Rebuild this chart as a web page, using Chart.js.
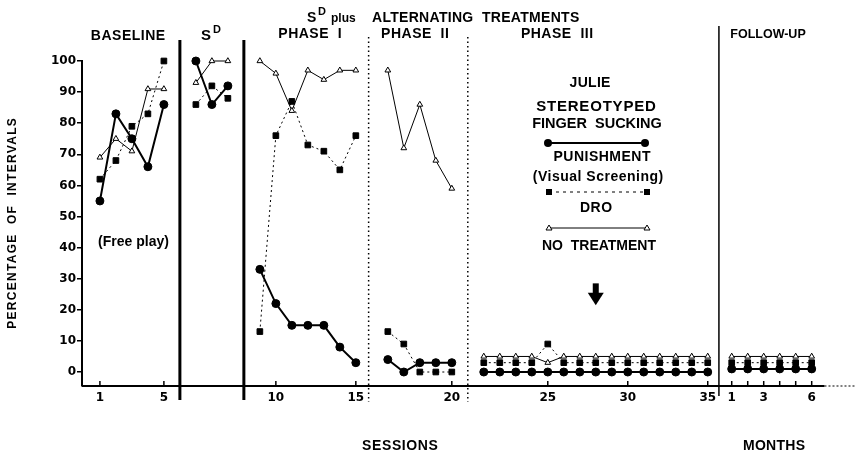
<!DOCTYPE html>
<html>
<head>
<meta charset="utf-8">
<script src="https://cdn.jsdelivr.net/npm/chart.js@4.4.0/dist/chart.umd.min.js"></script>
<style>
  body { margin: 0; background: #fff; }
  #wrap { width: 861px; height: 453px; }
</style>
</head>
<body>
<div id="wrap"><canvas id="chart"></canvas></div>
<script>
// sessions in each condition
const baselineSessions = [1, 2, 3, 4, 5];
const sdSessions = [6, 7, 8];
const phase1Sessions = [9, 10, 11, 12, 13, 14, 15];
const phase2Sessions = [16, 17, 18, 19, 20];
const phase3Sessions = [21, 22, 23, 24, 25, 26, 27, 28, 29, 30, 31, 32, 33, 34, 35];
const followUpMonths = [1, 2, 3, 4, 5, 6];

// punishment (visual screening)
const punBaseline = [55, 83, 75, 66, 86];
const punSD = [100, 86, 92];
const punPhase1 = [33, 22, 15, 15, 15, 8, 3];
const punPhase2 = [4, 0, 3, 3, 3];
const punPhase3 = [0, 0, 0, 0, 0, 0, 0, 0, 0, 0, 0, 0, 0, 0, 0];
const punFollowUp = [1, 1, 1, 1, 1, 1];

// DRO
const droBaseline = [62, 68, 79, 83, 100];
const droSD = [86, 92, 88];
const droPhase1 = [13, 76, 87, 73, 71, 65, 76];
const droPhase2 = [13, 9, 0, 0, 0];
const droPhase3 = [3, 3, 3, 3, 9, 3, 3, 3, 3, 3, 3, 3, 3, 3, 3];
const droFollowUp = [3, 3, 3, 3, 3, 3];

// no treatment
const ntBaseline = [69, 75, 71, 91, 91];
const ntSD = [93, 100, 100];
const ntPhase1 = [100, 96, 84, 97, 94, 97, 97];
const ntPhase2 = [97, 72, 86, 68, 59];
const ntPhase3 = [5, 5, 5, 5, 3, 5, 5, 5, 5, 5, 5, 5, 5, 5, 5];
const ntFollowUp = [5, 5, 5, 5, 5, 5];

// axis labels
const yTicks = [0, 10, 20, 30, 40, 50, 60, 70, 80, 90, 100];
const sessionTicks = [1, 5, 10, 15, 20, 25, 30, 35];
const monthTicks = [1, 2, 3, 4, 5, 6];
const monthLabels = ["1", "", "3", "", "", "6"];

// each condition is shifted right by one empty slot on the axis
const gap = { baseline: 0, sd: 1, p1: 2, p2: 3, p3: 4, months: 39.5 };

function sessionPos(s) {
  if (s <= 5) return s + gap.baseline;
  if (s <= 8) return s + gap.sd;
  if (s <= 15) return s + gap.p1;
  if (s <= 20) return s + gap.p2;
  return s + gap.p3;
}

function series(parts) {
  let pts = [];
  parts.forEach((p, i) => {
    let xs = p[0].map(v => p[2] ? v + gap.months : sessionPos(v));
    if (i > 0) pts.push({ x: xs[0] - 0.5, y: null });
    xs.forEach((x, j) => pts.push({ x: x, y: p[1][j] }));
  });
  return pts;
}

const punData = series([
  [baselineSessions, punBaseline], [sdSessions, punSD], [phase1Sessions, punPhase1],
  [phase2Sessions, punPhase2], [phase3Sessions, punPhase3], [followUpMonths, punFollowUp, true]
]);
const droData = series([
  [baselineSessions, droBaseline], [sdSessions, droSD], [phase1Sessions, droPhase1],
  [phase2Sessions, droPhase2], [phase3Sessions, droPhase3], [followUpMonths, droFollowUp, true]
]);
const ntData = series([
  [baselineSessions, ntBaseline], [sdSessions, ntSD], [phase1Sessions, ntPhase1],
  [phase2Sessions, ntPhase2], [phase3Sessions, ntPhase3], [followUpMonths, ntFollowUp, true]
]);

let tickLabel = {};
sessionTicks.forEach(s => tickLabel[sessionPos(s)] = String(s));
monthTicks.forEach((m, i) => tickLabel[m + gap.months] = monthLabels[i]);

function text(ctx, str, x, y, font, spacing, align) {
  ctx.font = font;
  ctx.letterSpacing = (spacing || 0) + "px";
  ctx.textAlign = align || "center";
  ctx.fillText(str, x + (align ? 0 : (spacing || 0) / 2), y);
}

function circle(ctx, x, y) {
  ctx.beginPath(); ctx.arc(x, y, 4, 0, Math.PI * 2); ctx.fill();
}
function square(ctx, x, y) {
  ctx.fillRect(x - 3, y - 3, 6, 6);
}
function triangle(ctx, x, y) {
  ctx.beginPath();
  ctx.moveTo(x, y - 3); ctx.lineTo(x + 3, y + 2); ctx.lineTo(x - 3, y + 2); ctx.closePath();
  ctx.fillStyle = "#fff"; ctx.fill(); ctx.lineWidth = 1; ctx.stroke(); ctx.fillStyle = "#000";
}

const overlay = {
  id: "overlay",
  afterDraw(chart) {
    const { ctx, chartArea: a, scales: { x, y } } = chart;
    ctx.save();
    ctx.strokeStyle = "#000";
    ctx.fillStyle = "#000";

    // condition lines
    ctx.lineWidth = 3;
    [6, 10].forEach(p => {
      let px = x.getPixelForValue(p);
      ctx.beginPath(); ctx.moveTo(px, 40); ctx.lineTo(px, a.bottom + 14); ctx.stroke();
    });
    ctx.lineWidth = 1.5;
    ctx.setLineDash([1.5, 3]);
    [17.8, 24].forEach(p => {
      let px = x.getPixelForValue(p);
      ctx.beginPath(); ctx.moveTo(px, 37); ctx.lineTo(px, a.bottom + 16); ctx.stroke();
    });
    ctx.setLineDash([]);
    let fu = x.getPixelForValue(39.7);
    ctx.beginPath(); ctx.moveTo(fu, 26); ctx.lineTo(fu, a.bottom + 10); ctx.stroke();

    // x axis with inward ticks
    ctx.lineWidth = 2;
    let end = x.getPixelForValue(46.3);
    ctx.beginPath(); ctx.moveTo(a.left, a.bottom); ctx.lineTo(end, a.bottom); ctx.stroke();
    ctx.lineWidth = 1;
    ctx.setLineDash([2, 2]);
    ctx.beginPath(); ctx.moveTo(end, a.bottom); ctx.lineTo(a.right, a.bottom); ctx.stroke();
    ctx.setLineDash([]);
    ctx.lineWidth = 1.5;
    x.ticks.forEach(t => {
      let px = x.getPixelForValue(t.value);
      ctx.beginPath(); ctx.moveTo(px, a.bottom); ctx.lineTo(px, a.bottom - 5); ctx.stroke();
    });

    // headings
    const h = "bold 14px 'Liberation Sans'";
    text(ctx, "BASELINE", 128, 40, h, 0.5);
    text(ctx, "S", 206, 40, "bold 15px 'Liberation Sans'");
    text(ctx, "D", 217, 33, "bold 11px 'Liberation Sans'");
    text(ctx, "S", 307, 22, "bold 14px 'Liberation Sans'", 0, "left");
    text(ctx, "D", 318, 15, "bold 11px 'Liberation Sans'", 0, "left");
    text(ctx, "plus", 331, 22, "bold 12px 'Liberation Sans'", 0, "left");
    text(ctx, "ALTERNATING  TREATMENTS", 372, 22, h, 0.3, "left");
    text(ctx, "PHASE  I", 310, 38, h, 0.5);
    text(ctx, "PHASE  II", 415, 38, h, 0.5);
    text(ctx, "PHASE  III", 557, 38, h, 0.5);
    text(ctx, "FOLLOW-UP", 768, 38, "bold 12.5px 'Liberation Sans'", 0);

    // legend block
    const lg = "bold 14px 'Liberation Sans'";
    text(ctx, "JULIE", 590, 87, lg, 0.3);
    text(ctx, "STEREOTYPED", 596, 111, "bold 15px 'Liberation Sans'", 0.8);
    text(ctx, "FINGER  SUCKING", 597, 128, "bold 14.5px 'Liberation Sans'", 0);
    ctx.lineWidth = 2;
    ctx.beginPath(); ctx.moveTo(548, 143); ctx.lineTo(645, 143); ctx.stroke();
    circle(ctx, 548, 143); circle(ctx, 645, 143);
    text(ctx, "PUNISHMENT", 602, 161, lg, 0.5);
    text(ctx, "(Visual Screening)", 598, 181, lg, 0.5);
    ctx.lineWidth = 1;
    ctx.setLineDash([3, 4]);
    ctx.beginPath(); ctx.moveTo(549, 192); ctx.lineTo(647, 192); ctx.stroke();
    ctx.setLineDash([]);
    square(ctx, 549, 192); square(ctx, 647, 192);
    text(ctx, "DRO", 596, 212, lg, 0.5);
    ctx.beginPath(); ctx.moveTo(549, 228); ctx.lineTo(647, 228); ctx.stroke();
    triangle(ctx, 549, 228); triangle(ctx, 647, 228);
    text(ctx, "NO  TREATMENT", 599, 250, lg, 0);

    // arrow at session 28
    let ax = x.getPixelForValue(sessionPos(28));
    ctx.fillRect(ax - 3, y.getPixelForValue(28.5), 6, y.getPixelForValue(25) - y.getPixelForValue(28.5));
    ctx.beginPath();
    ctx.moveTo(ax - 8, y.getPixelForValue(25.5));
    ctx.lineTo(ax + 8, y.getPixelForValue(25.5));
    ctx.lineTo(ax, y.getPixelForValue(21.5));
    ctx.closePath(); ctx.fill();

    text(ctx, "(Free play)", x.getPixelForValue(3.1), y.getPixelForValue(40.5), "bold 14px 'Liberation Sans'", 0);

    // axis titles
    text(ctx, "SESSIONS", 400, 450, lg, 0.6);
    text(ctx, "MONTHS", 774, 450, lg, 0.3);
    ctx.translate(16, (a.top + a.bottom) / 2);
    ctx.rotate(-Math.PI / 2);
    text(ctx, "PERCENTAGE  OF  INTERVALS", 0, 0, "bold 12px 'Liberation Sans'", 1.3);
    ctx.restore();
  }
};

const tickFont = { family: "DejaVu Sans", weight: "bold", size: 12 };

new Chart(document.getElementById("chart"), {
  type: "line",
  data: {
    datasets: [
      {
        label: "PUNISHMENT",
        data: punData,
        borderColor: "#000",
        borderWidth: 2,
        pointStyle: "circle",
        pointRadius: 4,
        pointBackgroundColor: "#000",
        pointBorderColor: "#000",
        pointBorderWidth: 1,
        tension: 0,
        spanGaps: false,
        clip: false
      },
      {
        label: "DRO",
        data: droData,
        borderColor: "#000",
        borderWidth: 1,
        borderDash: [2, 3],
        pointStyle: "rect",
        pointRadius: 4,
        pointBackgroundColor: "#000",
        pointBorderColor: "#000",
        pointBorderWidth: 1,
        tension: 0,
        spanGaps: false,
        clip: false
      },
      {
        label: "NO TREATMENT",
        data: ntData,
        borderColor: "#000",
        borderWidth: 1,
        pointStyle: "triangle",
        pointRadius: 3.3,
        pointBackgroundColor: "#fff",
        pointBorderColor: "#000",
        pointBorderWidth: 1,
        tension: 0,
        spanGaps: false,
        clip: false
      }
    ]
  },
  options: {
    responsive: true,
    maintainAspectRatio: false,
    animation: false,
    layout: { padding: { top: 61, left: 0, right: 0, bottom: 0 } },
    plugins: { legend: { display: false }, tooltip: { enabled: false } },
    scales: {
      x: {
        type: "linear",
        min: -0.12,
        max: 48.27,
        afterFit: s => { s.height = 67; },
        afterBuildTicks: s => {
          s.ticks = Object.keys(tickLabel).map(v => ({ value: Number(v) }));
        },
        ticks: {
          autoSkip: false,
          maxRotation: 0,
          padding: 5,
          color: "#000",
          font: tickFont,
          callback: v => tickLabel[v]
        },
        grid: { display: false, drawTicks: false },
        border: { display: false }
      },
      y: {
        min: -4.5,
        max: 100,
        afterFit: s => { s.width = 82; },
        afterBuildTicks: s => { s.ticks = yTicks.map(v => ({ value: v })); },
        ticks: { padding: 1, color: "#000", font: tickFont },
        grid: { drawOnChartArea: false, drawTicks: true, tickLength: 5, color: "#000", lineWidth: 1.5 },
        border: { display: true, color: "#000", width: 2 }
      }
    }
  },
  plugins: [overlay]
});
</script>
</body>
</html>
